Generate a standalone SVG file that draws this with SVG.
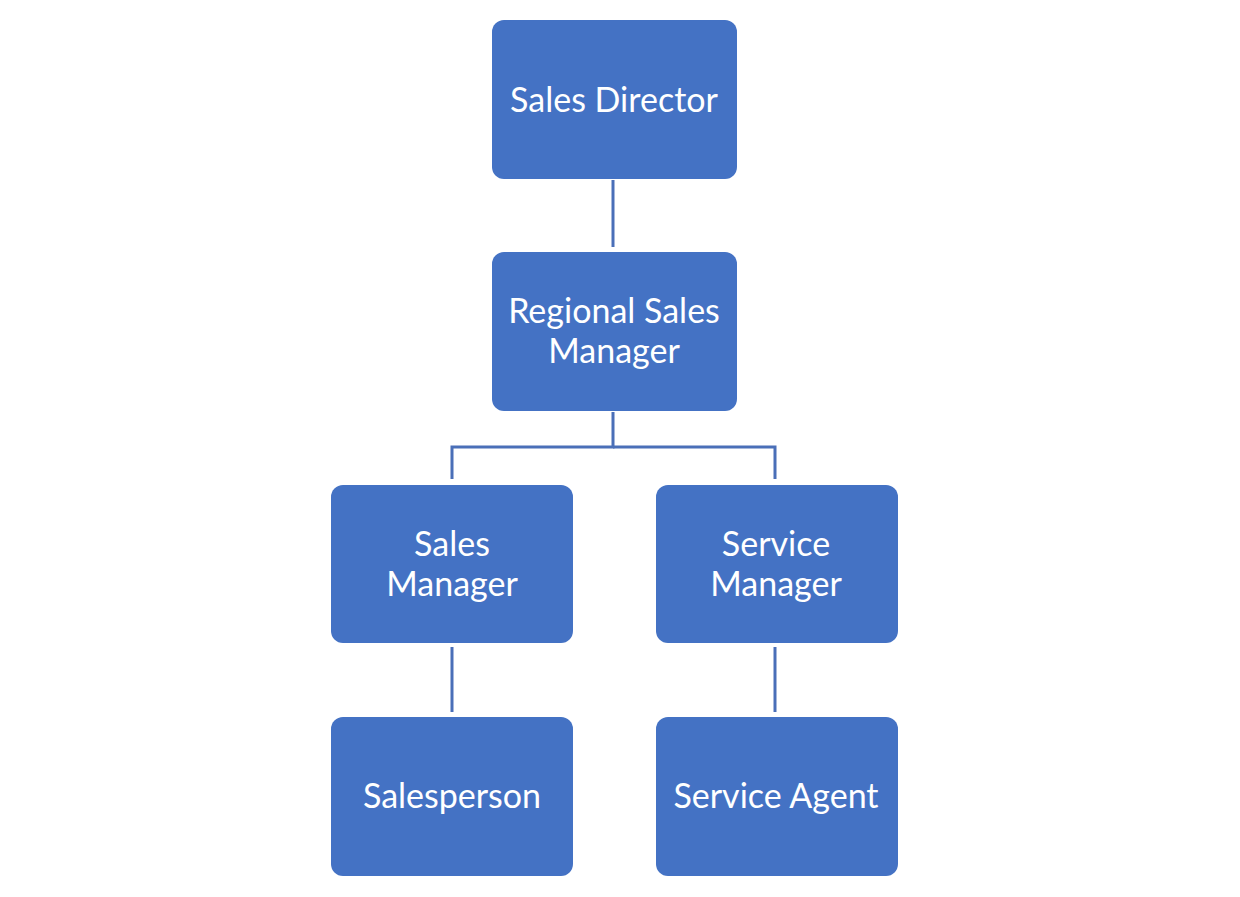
<svg xmlns="http://www.w3.org/2000/svg" width="1240" height="897" viewBox="0 0 1240 897">
<style>
.box{fill:#4472C4;}
.t{font-family:Lato,"Open Sans","Liberation Sans",sans-serif;font-size:34px;fill:#ffffff;text-anchor:middle;dominant-baseline:central;}
.c{stroke:#4A6FB8;stroke-width:3;fill:none;}
</style>
<rect width="1240" height="897" fill="#ffffff"/>
<g id="connectors">
<line class="c" x1="613" y1="180" x2="613" y2="247"/>
<polyline class="c" points="613,412 613,447 452,447 452,479"/>
<polyline class="c" points="613,447 775,447 775,479"/>
<line class="c" x1="452" y1="647" x2="452" y2="712"/>
<line class="c" x1="775" y1="647" x2="775" y2="712"/>
</g>
<g id="sales-director">
<rect class="box" x="492" y="20" width="245" height="159" rx="12"/>
<text class="t" x="614" y="98">Sales Director</text>
</g>
<g id="regional-sales-manager">
<rect class="box" x="492" y="252" width="245" height="159" rx="12"/>
<text class="t" x="614" y="309">Regional Sales</text>
<text class="t" x="614" y="349">Manager</text>
</g>
<g id="sales-manager">
<rect class="box" x="331" y="485" width="242" height="158" rx="12"/>
<text class="t" x="452" y="542">Sales</text>
<text class="t" x="452" y="582">Manager</text>
</g>
<g id="service-manager">
<rect class="box" x="656" y="485" width="242" height="158" rx="12"/>
<text class="t" x="776" y="542">Service</text>
<text class="t" x="776" y="582">Manager</text>
</g>
<g id="salesperson">
<rect class="box" x="331" y="717" width="242" height="159" rx="12"/>
<text class="t" x="452" y="794">Salesperson</text>
</g>
<g id="service-agent">
<rect class="box" x="656" y="717" width="242" height="159" rx="12"/>
<text class="t" x="776" y="794">Service Agent</text>
</g>
</svg>
